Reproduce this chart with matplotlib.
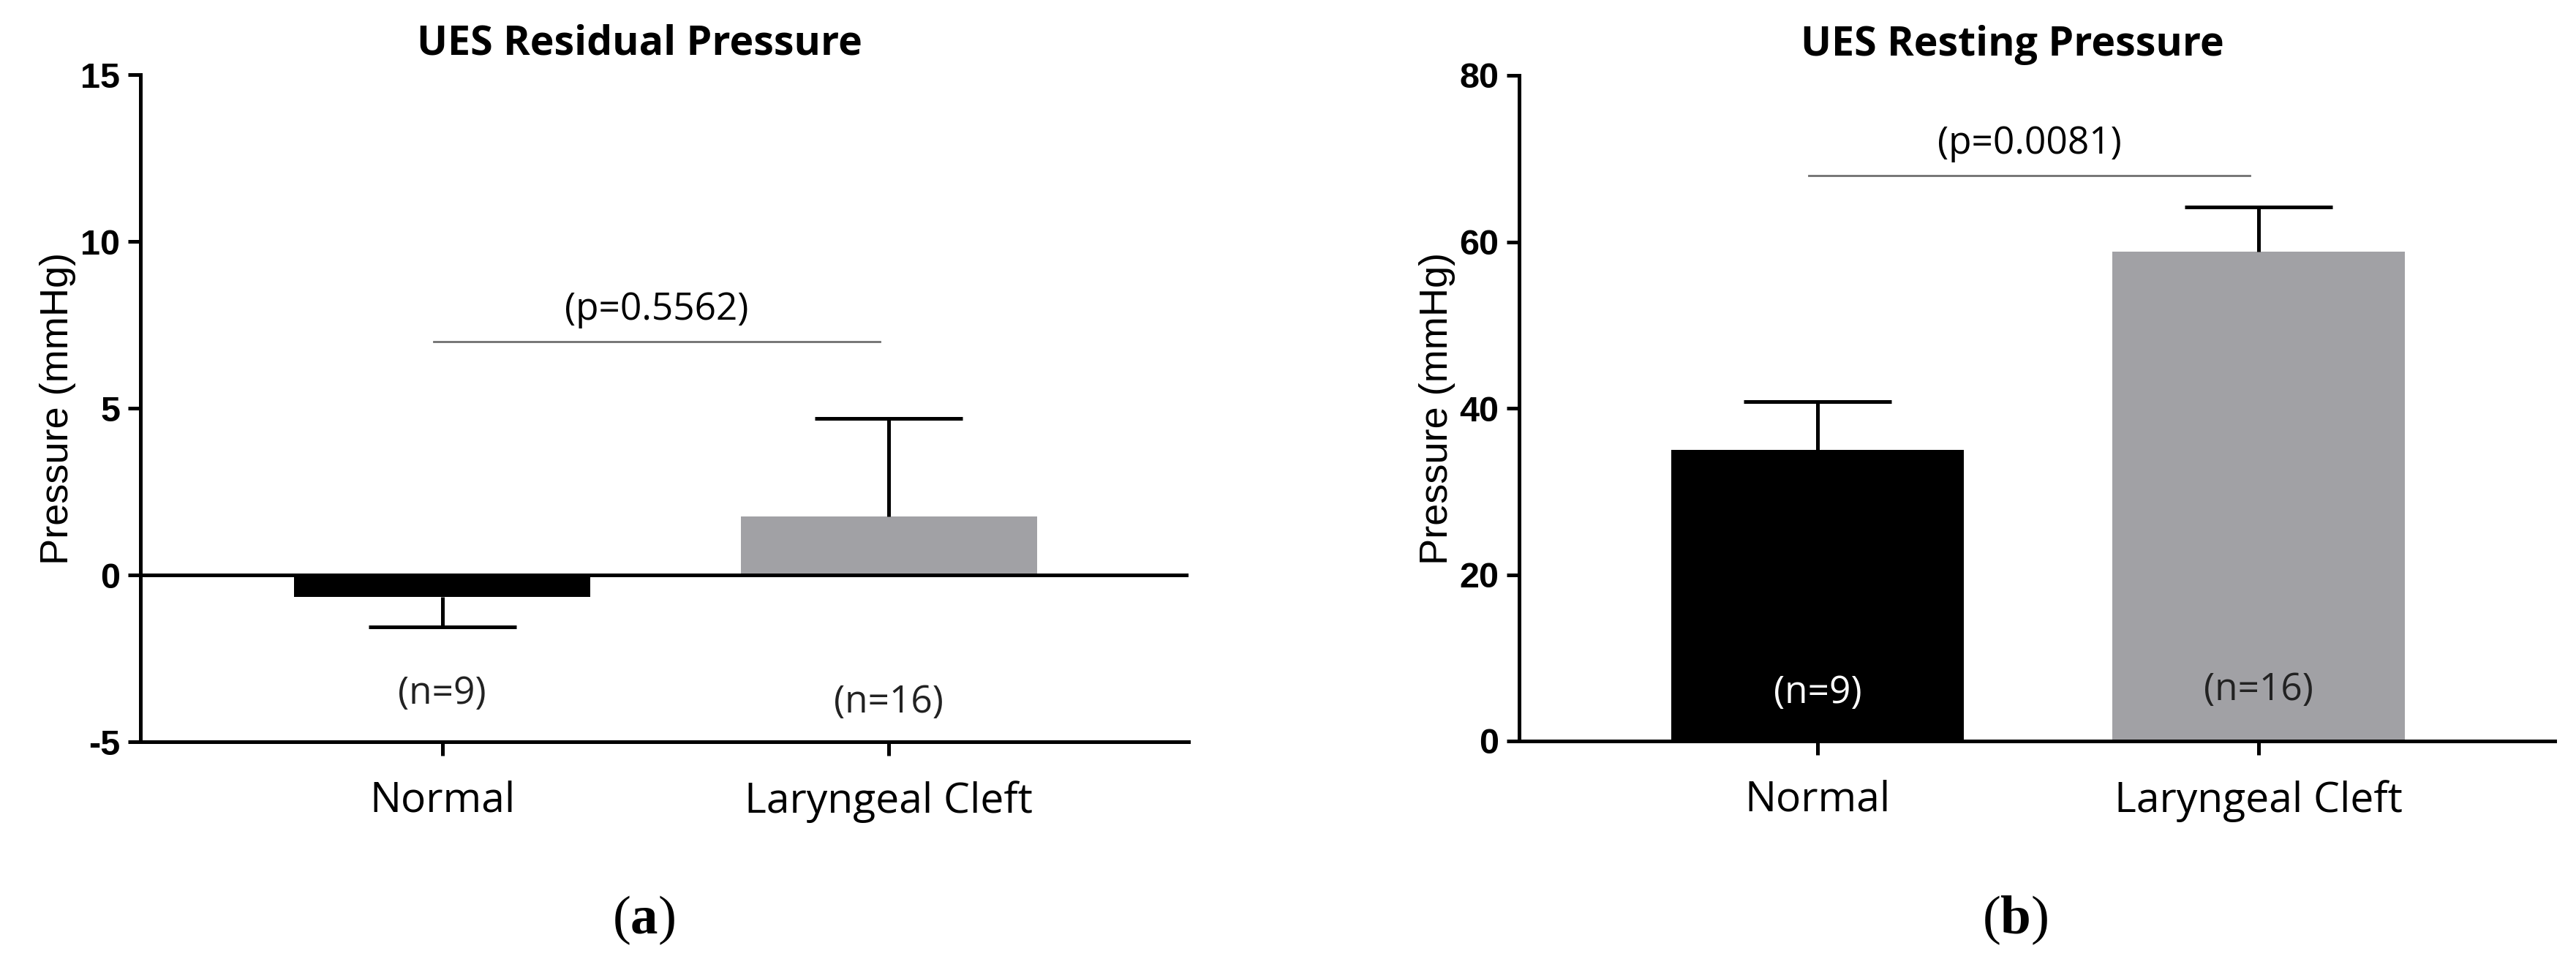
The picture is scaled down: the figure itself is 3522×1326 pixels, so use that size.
import matplotlib.pyplot as plt

plt.rcParams['axes.unicode_minus'] = False
plt.rcParams['mathtext.fontset'] = 'custom'
plt.rcParams['mathtext.rm'] = 'Liberation Serif'
plt.rcParams['mathtext.bf'] = 'Liberation Serif:bold'

# Dados
grupos = ['Normal', 'Laryngeal Cleft']
n_grupos = ['(n=9)', '(n=16)']

residual_media = [-0.65, 1.75]
residual_sem = [0.9, 2.94]
residual_p = '(p=0.5562)'
residual_ticks = [-5, 0, 5, 10, 15]

resting_media = [35.0, 58.8]
resting_sem = [5.8, 5.4]
resting_p = '(p=0.0081)'
resting_ticks = [0, 20, 40, 60, 80]

cores = ['black', '#a1a1a5']

W, H = 3522, 1326
fig = plt.figure(figsize=(W / 100, H / 100), dpi=100)
ax1 = fig.add_axes([192 / W, 1 - 1014 / H, 1433 / W, 912 / H])
ax2 = fig.add_axes([2077 / W, 1 - 1013 / H, 1416 / W, 910 / H])

LW = 3.6
x = [0, 1]


def painel(ax, medias, sems, ticks, titulo, p_txt, p_y, n_y, n_cores):
    ax.bar(x, medias, width=0.664, color=cores, zorder=1)
    for xi, m, s in zip(x, medias, sems):
        lo, hi = (s, 0) if m < 0 else (0, s)
        _, caps, _ = ax.errorbar(xi, m, yerr=[[lo], [hi]], fmt='none', ecolor='black',
                                 elinewidth=LW, capsize=73, capthick=LW, zorder=3)
        # so a barra de erro de um lado (sem tampa junto da barra)
        for c in caps:
            if abs(c.get_ydata()[0] - m) < 1e-9:
                c.set_visible(False)
    ax.set_xlim(-0.676, 1.671)
    ax.set_ylim(ticks[0], ticks[-1])
    ax.set_yticks(ticks)
    ax.set_yticklabels([str(t) for t in ticks], fontfamily='Liberation Sans',
                       fontweight='bold', fontsize=35)
    ax.set_xticks(x)
    ax.set_xticklabels(grupos, fontfamily='Open Sans', fontsize=41)
    ax.tick_params(axis='y', length=12, width=LW, pad=8)
    ax.tick_params(axis='x', length=14, width=LW, pad=24)
    for s in ['top', 'right']:
        ax.spines[s].set_visible(False)
    for s in ['left', 'bottom']:
        ax.spines[s].set_linewidth(LW)
    ax.set_ylabel('Pressure (mmHg)', fontfamily='Liberation Sans', fontsize=39, va='center')
    ax.yaxis.set_label_coords(-0.079, 0.5)
    ax.text(0.476, 1.03, titulo, transform=ax.transAxes, ha='center', va='baseline',
            fontfamily='Open Sans', fontweight='bold', fontsize=40)
    # linha de significancia
    ax.plot([-0.02, 0.98], [p_y, p_y], color='#707070', lw=2, zorder=2)
    ax.text(0.48, p_y + (ticks[-1] - ticks[0]) * 0.047, p_txt, ha='center', va='center',
            fontfamily='Open Sans', fontsize=37)
    for xi, lab, ny, c in zip(x, n_grupos, n_y, n_cores):
        ax.text(xi, ny, lab, ha='center', va='center', fontfamily='Open Sans',
                fontsize=37, color=c)


painel(ax1, residual_media, residual_sem, residual_ticks, 'UES Residual Pressure',
       residual_p, 7.0, [-3.57, -3.82], ['#222222', '#222222'])
ax1.axhline(0, color='black', lw=LW, zorder=2)

painel(ax2, resting_media, resting_sem, resting_ticks, 'UES Resting Pressure',
       resting_p, 68.0, [5.8, 6.1], ['white', '#222222'])

fig.text(880 / W, 1 - 1258 / H, r'($\mathbf{a}$)', ha='center', va='center',
         fontfamily='Liberation Serif', fontsize=54)
fig.text(2755 / W, 1 - 1258 / H, r'($\mathbf{b}$)', ha='center', va='center',
         fontfamily='Liberation Serif', fontsize=54)

fig.savefig('out.png', dpi=100, facecolor='white')
